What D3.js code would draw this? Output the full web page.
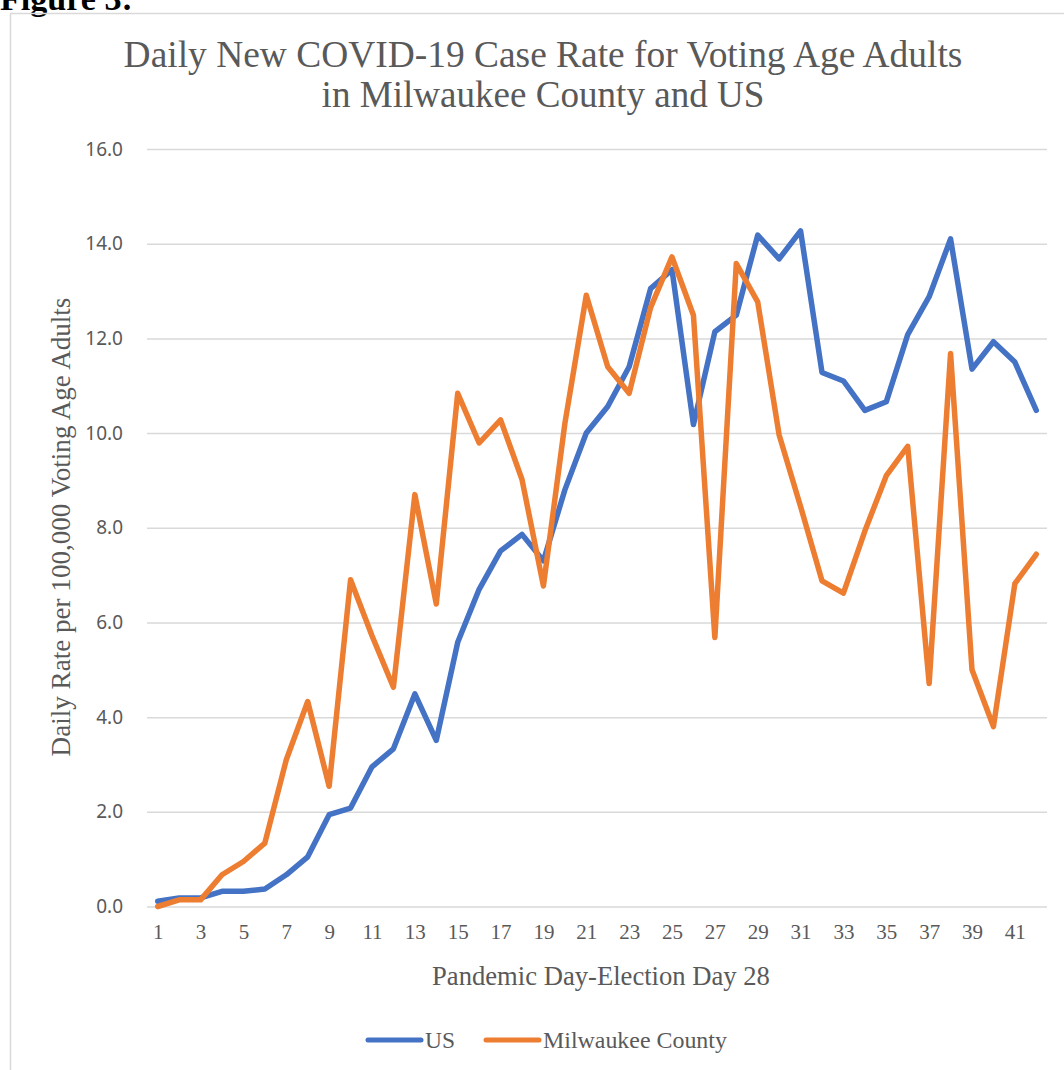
<!DOCTYPE html>
<html>
<head>
<meta charset="utf-8">
<script src="https://cdn.jsdelivr.net/npm/d3@7"></script>
<style>
  html, body { margin: 0; padding: 0; background: #ffffff; }
  svg { display: block; }
</style>
</head>
<body>
<svg id="chart" width="1064" height="1070"></svg>
<script>
// ---- Data ----
const days = [1,2,3,4,5,6,7,8,9,10,11,12,13,14,15,16,17,18,19,20,21,22,23,24,25,26,27,28,29,30,31,32,33,34,35,36,37,38,39,40,41,42];
const usRate = [0.11,0.18,0.18,0.32,0.32,0.37,0.67,1.05,1.94,2.08,2.95,3.33,4.49,3.51,5.58,6.70,7.51,7.86,7.30,8.80,10.0,10.56,11.4,13.05,13.45,10.18,12.14,12.49,14.18,13.68,14.27,11.28,11.1,10.48,10.66,12.08,12.88,14.1,11.35,11.93,11.5,10.48];
const milwaukeeRate = [0.0,0.14,0.14,0.67,0.95,1.34,3.1,4.33,2.54,6.9,5.72,4.63,8.7,6.39,10.84,9.79,10.28,9.02,6.77,10.2,12.91,11.4,10.84,12.65,13.72,12.49,5.68,13.58,12.77,9.96,8.45,6.88,6.62,7.93,9.1,9.72,4.71,11.68,5.0,3.8,6.82,7.44];
const xTickLabels = [1,3,5,7,9,11,13,15,17,19,21,23,25,27,29,31,33,35,37,39,41];
const yTickValues = [0,2,4,6,8,10,12,14,16];
const seriesNames = ["US", "Milwaukee County"];
const seriesColors = ["#4472C4", "#ED7D31"];
const titleLines = ["Daily New COVID-19 Case Rate for Voting Age Adults", "in Milwaukee County and US"];
const yAxisTitle = "Daily Rate per 100,000 Voting Age Adults";
const xAxisTitle = "Pandemic Day-Election Day 28";
const figureLabel = "Figure 3:";

// ---- Layout ----
const svg = d3.select("#chart");
const plot = { left: 147, right: 1047, top: 149, bottom: 906.5 };
const serif = "'Liberation Serif', 'Times New Roman', serif";
const sans = "'Noto Sans', 'Open Sans', sans-serif";
const textColor = "#595959";

function fitText(sel, targetWidth) {
  const base = 32;
  sel.attr("font-size", base);
  const w = sel.node().getComputedTextLength();
  sel.attr("font-size", base * targetWidth / w);
}

// Figure label (cut off at top, as in the reference)
const fl = svg.append("text")
  .attr("x", 0).attr("y", 10)
  .attr("font-family", serif).attr("font-weight", "bold")
  .attr("fill", "#000")
  .text(figureLabel);
fitText(fl, 133);

// Chart border
svg.append("rect")
  .attr("x", 10.5).attr("y", 13.5)
  .attr("width", 1070).attr("height", 1070)
  .attr("fill", "none").attr("stroke", "#d9d9d9").attr("stroke-width", 1.5);

const x = d3.scalePoint().domain(days).range([plot.left, plot.right]).padding(0.5);
const y = d3.scaleLinear().domain([0, 16]).range([plot.bottom, plot.top]);

// Title, fitted to the reference widths
const t1 = svg.append("text").attr("x", 543).attr("y", 67)
  .attr("text-anchor", "middle").attr("font-family", serif).attr("fill", textColor)
  .text(titleLines[0]);
fitText(t1, 839);
const t2 = svg.append("text").attr("x", 543).attr("y", 107)
  .attr("text-anchor", "middle").attr("font-family", serif).attr("fill", textColor)
  .text(titleLines[1]);
fitText(t2, 443);

// Gridlines + y axis labels
const yAxis = d3.axisLeft(y).tickValues(yTickValues).tickFormat(d3.format(".1f"))
  .tickSize(-(plot.right - plot.left)).tickPadding(24);
const gy = svg.append("g").attr("transform", `translate(${plot.left},0)`).call(yAxis);
gy.select(".domain").remove();
gy.selectAll(".tick line").attr("stroke", "#d9d9d9").attr("stroke-width", 1.5);
gy.selectAll(".tick text").attr("font-family", sans).attr("font-size", 19).attr("fill", textColor);

// X axis labels
const xAxis = d3.axisBottom(x).tickValues(xTickLabels).tickSize(0).tickPadding(18);
const gx = svg.append("g").attr("transform", `translate(0,${plot.bottom})`).call(xAxis);
gx.select(".domain").remove();
gx.selectAll(".tick text").attr("font-family", serif).attr("font-size", 21).attr("fill", textColor);

// Axis titles
const yt = svg.append("text")
  .attr("transform", `translate(70,527) rotate(-90)`)
  .attr("text-anchor", "middle").attr("font-family", serif).attr("fill", textColor)
  .text(yAxisTitle);
fitText(yt, 459);
const xt = svg.append("text").attr("x", 601).attr("y", 985)
  .attr("text-anchor", "middle").attr("font-family", serif).attr("fill", textColor)
  .text(xAxisTitle);
fitText(xt, 338);

// Lines
const line = d3.line().x((d, i) => x(days[i])).y(d => y(d));
[usRate, milwaukeeRate].forEach((s, k) => {
  svg.append("path").datum(s)
    .attr("d", line)
    .attr("fill", "none")
    .attr("stroke", seriesColors[k])
    .attr("stroke-width", 5.5)
    .attr("stroke-linejoin", "round")
    .attr("stroke-linecap", "round");
});

// Legend
const legendItems = [
  { x1: 368, x2: 421, tx: 425, w: 30, name: seriesNames[0], color: seriesColors[0] },
  { x1: 486, x2: 539, tx: 543, w: 184, name: seriesNames[1], color: seriesColors[1] }
];
legendItems.forEach(it => {
  svg.append("line").attr("x1", it.x1).attr("x2", it.x2).attr("y1", 1040).attr("y2", 1040)
    .attr("stroke", it.color).attr("stroke-width", 5).attr("stroke-linecap", "round");
  const lt = svg.append("text").attr("x", it.tx).attr("y", 1048)
    .attr("font-family", serif).attr("fill", textColor)
    .text(it.name);
  fitText(lt, it.w);
});
</script>
</body>
</html>
